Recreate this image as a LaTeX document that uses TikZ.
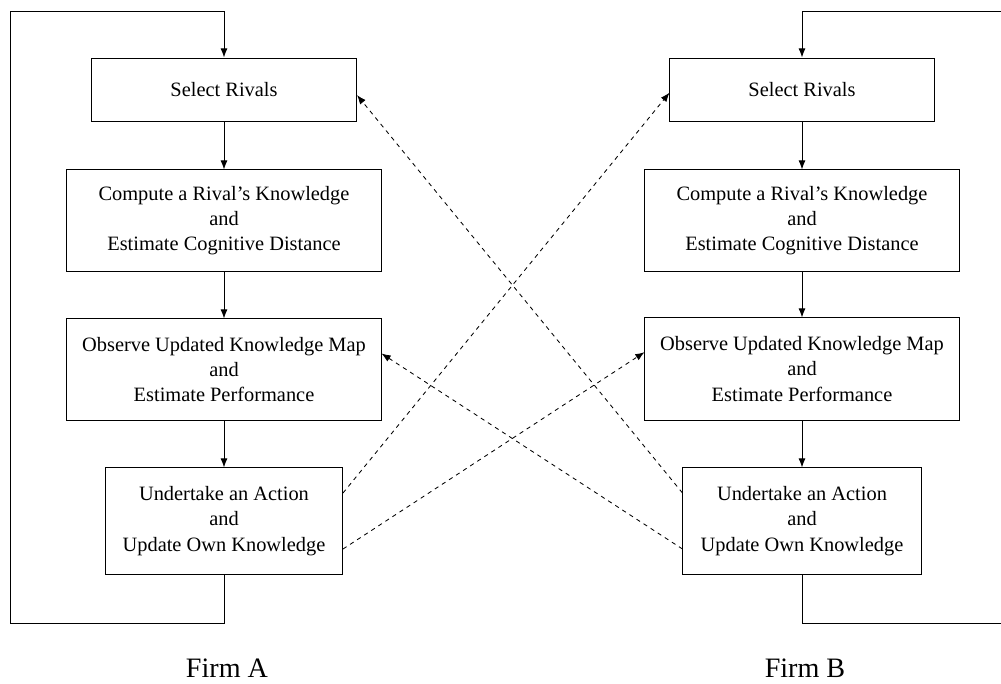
\documentclass[tikz,border=0pt]{standalone}
\usepackage{fontspec}
\setmainfont{Liberation Serif}
\usetikzlibrary{arrows.meta}
\tikzset{
	stepbox/.style={draw, line width=0.7pt, align=center, inner sep=0pt, font=\fontsize{14.5}{18}\selectfont},
	flow/.style={line width=0.7pt, -{Latex[length=6.5pt,width=5pt]}},
	crossflow/.style={line width=0.6pt, dash pattern=on 3pt off 3pt, -{Latex[length=6.5pt,width=5pt]}}
}

\begin{document}
\begin{tikzpicture}[x=0.025cm, y=-0.025cm]
			%%%%% START %%%%%
			\useasboundingbox (0, 0) rectangle (1001, 684);
			
			% Firm A
			\node[stepbox, minimum width=6.625cm, minimum height=1.575cm] (selA) at (224, 89.5) {Select Rivals};
			\node[stepbox, minimum width=7.85cm, minimum height=2.525cm] (compA) at (224, 220.5) {Compute a Rival's Knowledge\\and\\Estimate Cognitive Distance};
			\node[stepbox, minimum width=7.85cm, minimum height=2.525cm] (obsA) at (224, 369.5) {Observe Updated Knowledge Map\\and\\Estimate Performance};
			\node[stepbox, minimum width=5.925cm, minimum height=2.65cm] (undA) at (224, 521) {Undertake an Action\\and\\Update Own Knowledge};
			
			\draw[flow] (selA) -- (compA);
			\draw[flow] (compA) -- (obsA);
			\draw[flow] (obsA) -- (undA);
			\draw[flow] (undA.south) -- ++(0, 49) -| (10, 11) -| (selA.north);
			
			\node[font=\fontsize{20}{24}\selectfont] (firmA) at (227, 668) {Firm A};
			
			% Firm B
			\node[stepbox, minimum width=6.6cm, minimum height=1.575cm] (selB) at (802, 89.5) {Select Rivals};
			\node[stepbox, minimum width=7.85cm, minimum height=2.525cm] (compB) at (802, 220.5) {Compute a Rival's Knowledge\\and\\Estimate Cognitive Distance};
			\node[stepbox, minimum width=7.85cm, minimum height=2.55cm] (obsB) at (802, 369) {Observe Updated Knowledge Map\\and\\Estimate Performance};
			\node[stepbox, minimum width=5.95cm, minimum height=2.65cm] (undB) at (802, 521) {Undertake an Action\\and\\Update Own Knowledge};
			
			\draw[flow] (selB) -- (compB);
			\draw[flow] (compB) -- (obsB);
			\draw[flow] (obsB) -- (undB);
			\draw[flow] (undB.south) -- ++(0, 49) -| (1004, 11) -| (selB.north);
			
			\node[font=\fontsize{20}{24}\selectfont] (firmB) at (805, 668) {Firm B};
			
			% rivals observing each other
			\draw[crossflow] ([yshift=0.7cm]undA.east) -- ([yshift=-0.08cm]selB.west);
			\draw[crossflow] ([yshift=-0.7cm]undA.east) -- ([yshift=0.42cm]obsB.west);
			\draw[crossflow] ([yshift=0.7cm]undB.west) -- ([yshift=-0.14cm]selA.east);
			\draw[crossflow] ([yshift=-0.7cm]undB.west) -- ([yshift=0.4cm]obsA.east);
			
			%%%%% END %%%%%
		\end{tikzpicture}
\end{document}
